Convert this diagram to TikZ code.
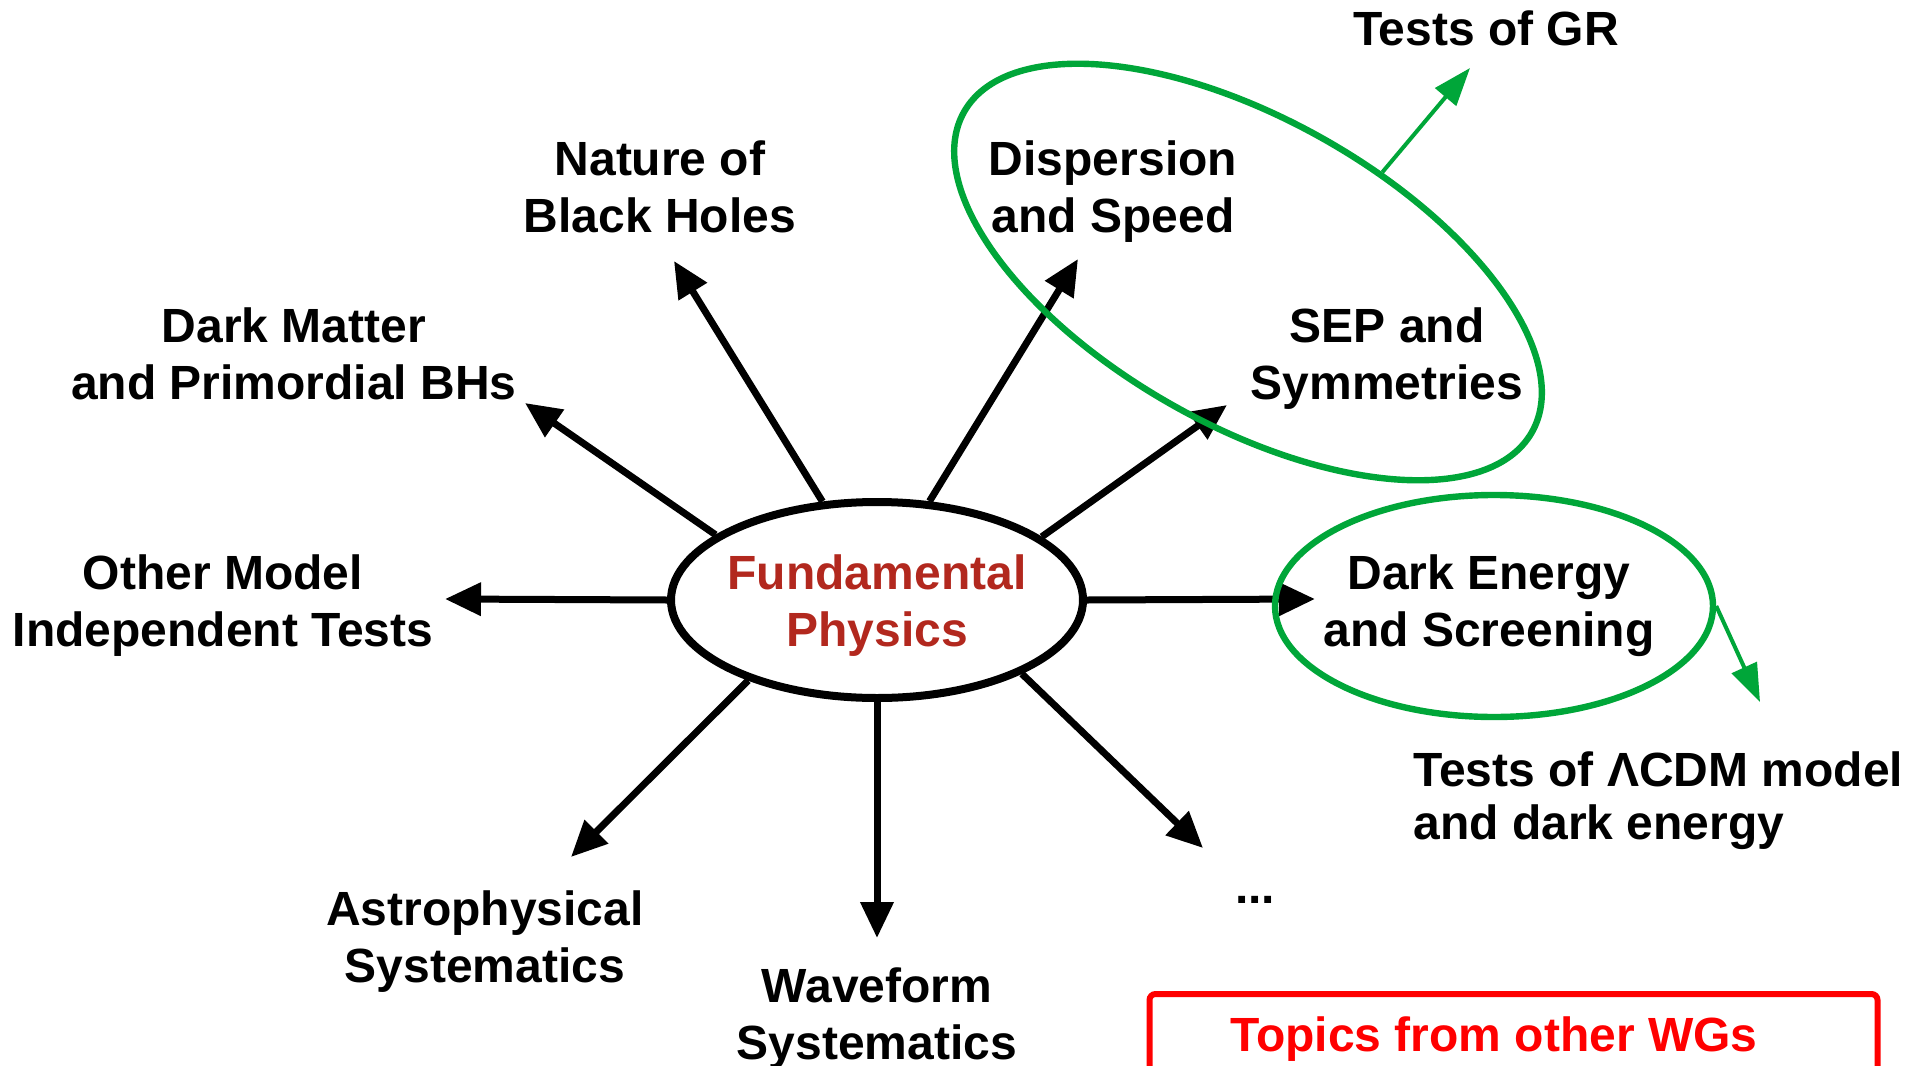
\documentclass[tikz,border=0pt]{standalone}
\usepackage{fontspec}
\setmainfont{Liberation Sans}
\usetikzlibrary{arrows.meta,shapes.geometric}
\definecolor{fpred}{RGB}{178,40,30}
\definecolor{grn}{RGB}{0,166,57}
\definecolor{boxred}{RGB}{255,0,0}
\tikzset{
  lbl/.style={font=\bfseries\fontsize{24}{28.5}\selectfont, align=center, inner sep=0pt},
  arr/.style={line width=3.5pt, -{Triangle[length=18pt,width=16pt]}},
  garr/.style={grn, line width=2pt, -{Triangle[length=19pt,width=13.5pt]}},
  gell/.style={ellipse, draw=grn, line width=3.2pt, inner sep=0pt},
}
\begin{document}
\begin{tikzpicture}[x=0.5pt,y=-0.5pt]
\useasboundingbox (0,0) rectangle (1905,1065);
\fill[white] (0,0) rectangle (1905,1065);

% central ellipse
\node[ellipse, draw, line width=4pt, inner sep=0pt, minimum width=206pt, minimum height=98pt] (fp) at (877,600) {};
\node[lbl, text=fpred] (fpt) at (877,606) {Fundamental\\Physics};

% arrow tips
\coordinate (tNat) at (674,261);
\coordinate (tDis) at (1078,259);
\coordinate (tDM)  at (525,403);
\coordinate (tSEP) at (1227,405);
\coordinate (tOth) at (445,599);
\coordinate (tDE)  at (1315,599);
\coordinate (tAst) at (571,857);
\coordinate (tWav) at (877,938);
\coordinate (tDot) at (1203,848);
\foreach \a/\t in {119.5/tNat,62.3/tDis,158.6/tDM,21.5/tSEP,180/tOth,0/tDE,212.6/tAst,270/tWav,333.4/tDot}
  \draw[arr] (fp.\a) -- (\t);

% labels
\node[lbl] (nat) at (660,187) {Nature of\\Black Holes};
\node[lbl] (dis) at (1113,192) {Dispersion\\and Speed};
\node[lbl] (dm)  at (294,354) {Dark Matter\\and Primordial BHs};
\node[lbl] (sep) at (1387,359) {SEP and\\Symmetries};
\node[lbl] (oth) at (223,606) {Other Model\\Independent Tests};
\node[lbl] (de)  at (1489,606) {Dark Energy\\and Screening};
\node[lbl] (ast) at (485,942) {Astrophysical\\Systematics};
\node[lbl] (wav) at (877,1019) {Waveform\\Systematics};
\node[lbl, anchor=base] (dots) at (1255,903) {...};

% green groupings
\node[gell, rotate=-29.4, minimum width=326pt, minimum height=153pt] (grell) at (1248,272) {};
\node[gell, minimum width=219pt, minimum height=111pt] (deell) at (1494,606) {};
\node[lbl, anchor=base] (gr) at (1486,46) {Tests of GR};
\node[lbl, align=left, anchor=west, font=\bfseries\fontsize{24}{26.5}\selectfont] (lcdm) at (1413,801) {Tests of ΛCDM model\\and dark energy};
\coordinate (tGR) at (1470,68);
\coordinate (tLC) at (1760,702);
\draw[garr] (grell.66) -- (tGR);
\draw[garr] (deell.east) -- (tLC);

% red box
\node[draw=boxred, line width=3pt, rounded corners=3pt, minimum width=364pt, minimum height=48.5pt, anchor=north, inner sep=0pt] (wg) at (1513.5,991) {};
\node[lbl, text=boxred, anchor=base] (wgt) at (1494,1051) {Topics from other WGs};
\end{tikzpicture}
\end{document}
